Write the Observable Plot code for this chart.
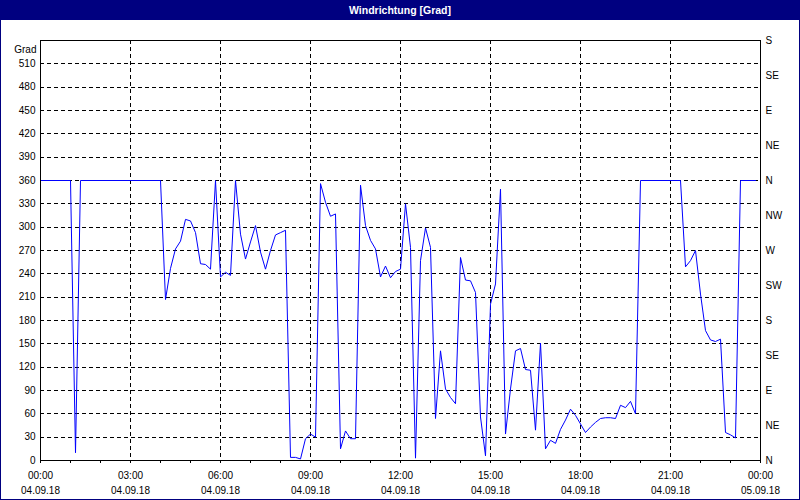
<!DOCTYPE html>
<html>
<head>
<meta charset="utf-8">
<script src="https://cdn.jsdelivr.net/npm/d3@7"></script>
<script src="https://cdn.jsdelivr.net/npm/@observablehq/plot@0.6"></script>
<style>
  html, body { margin: 0; padding: 0; background: #ffffff; }
  #wrap { position: relative; width: 800px; height: 500px; background: #ffffff; overflow: hidden; }
  #titlebar { position: absolute; left: 0; top: 0; width: 800px; height: 20px; background: #000080;
    color: #ffffff; font: bold 10.5px "Liberation Sans", Arial, sans-serif; text-align: center; line-height: 20px; }
  #chart { position: absolute; left: 0; top: 20px; }
  #border { position: absolute; left: 0; top: 0; width: 800px; height: 500px; box-sizing: border-box;
    border: 1px solid #000080; pointer-events: none; }
</style>
</head>
<body>
<div id="wrap">
  <div id="titlebar"></div>
  <div id="chart"></div>
  <div id="border"></div>
</div>
<script>
const chartTitle = "Windrichtung [Grad]";
const unitLabel = "Grad";
const day = "2018-09-04";

// measurement times (HH:MM, 04.09.18) and wind direction in degrees
const times = [
  "00:00","01:00","01:10","01:20","04:00","04:10","04:20","04:30","04:40","04:50",
  "05:00","05:10","05:20","05:30","05:40","05:50","06:00","06:10","06:20","06:30",
  "06:40","06:50","07:00","07:10","07:20","07:30","07:40","07:50","08:00","08:10",
  "08:20","08:30","08:40","08:50","09:00","09:10","09:20","09:30","09:40","09:50",
  "10:00","10:10","10:20","10:30","10:40","10:50","11:00","11:10","11:20","11:30",
  "11:40","11:50","12:00","12:10","12:20","12:30","12:40","12:50","13:00","13:10",
  "13:20","13:30","13:40","13:50","14:00","14:10","14:20","14:30","14:40","14:50",
  "15:00","15:10","15:20","15:30","15:40","15:50","16:00","16:10","16:20","16:30",
  "16:40","16:50","17:00","17:10","17:20","17:30","17:40","17:50","18:00","18:10",
  "18:20","18:30","18:40","18:50","19:00","19:10","19:20","19:30","19:40","19:50",
  "20:00","21:20","21:30","21:40","21:50","22:00","22:10","22:20","22:30","22:40",
  "22:50","23:00","23:10","23:20","23:50"
];
const degrees = [
  360,360,10,360,360,207,247,272,282,310,
  308,293,253,252,246,360,236,242,238,360,
  291,259,281,302,268,246,270,290,293,296,
  4,4,2,28,34,30,356,332,314,317,
  15,38,28,28,354,302,283,272,236,250,
  235,243,246,330,274,3,257,299,274,54,
  141,92,81,73,261,232,231,216,56,6,
  201,227,349,34,92,141,144,117,116,39,
  151,15,26,22,40,52,66,58,47,36,
  43,49,54,55,55,54,71,68,76,60,
  360,360,249,257,270,214,167,155,153,156,
  36,33,29,360,360
];

const xTicks = ["2018-09-04T00:00","2018-09-04T03:00","2018-09-04T06:00","2018-09-04T09:00",
  "2018-09-04T12:00","2018-09-04T15:00","2018-09-04T18:00","2018-09-04T21:00","2018-09-05T00:00"];
const yTicks = [0,30,60,90,120,150,180,210,240,270,300,330,360,390,420,450,480,510];
const yGrid = [30,60,90,120,150,180,210,240,270,300,330,360,390,420,450,480,510];
const compassTicks = [0,45,90,135,180,225,270,315,360,405,450,495,540];
const compassLabels = ["N","NE","E","SE","S","SW","W","NW","N","NE","E","SE","S"];

document.getElementById("titlebar").textContent = chartTitle;

const data = times.map((t, i) => ({date: new Date(`${day}T${t}:00Z`), value: degrees[i]}));
const xTickDates = xTicks.map(s => new Date(s + ":00Z"));
const xStart = xTickDates[0], xEnd = xTickDates[xTickDates.length - 1];
const hourTicks = d3.utcHour.range(xStart, new Date(+xEnd + 1));
const fmtTime = d3.utcFormat("%H:%M");
const fmtDate = d3.utcFormat("%d.%m.%y");

const plot = Plot.plot({
  width: 800,
  height: 478,
  marginLeft: 40,
  marginRight: 40,
  marginTop: 20,
  marginBottom: 38,
  style: {fontFamily: "'Liberation Sans', Arial, sans-serif", fontSize: "10px", background: "#ffffff", color: "#000000"},
  x: {type: "time", domain: [xStart, xEnd]},
  y: {domain: [0, 540]},
  marks: [
    Plot.ruleY(yGrid, {stroke: "#000000", strokeDasharray: "4,3", strokeWidth: 1, shapeRendering: "crispEdges"}),
    Plot.ruleX(xTickDates.slice(1, -1), {stroke: "#000000", strokeDasharray: "4,3", strokeWidth: 1, shapeRendering: "crispEdges"}),
    Plot.axisX({ticks: hourTicks, tickSize: 3, tickFormat: () => "", stroke: "#000000", label: null}),
    Plot.axisX({ticks: xTickDates, tickSize: 3, tickPadding: 5, lineHeight: 1.5, label: null,
      tickFormat: d => `${fmtTime(d)}\n${fmtDate(d)}`, fill: "#000000", stroke: "#000000"}),
    Plot.axisY({ticks: yTicks, tickSize: 0, tickPadding: 5, fill: "#000000", label: null, tickFormat: d => String(d)}),
    Plot.text([unitLabel], {frameAnchor: "top-left", textAnchor: "end", dx: -4, dy: 5, fill: "#000000"}),
    Plot.axisY({anchor: "right", ticks: compassTicks, tickSize: 0, tickPadding: 5, fill: "#000000", label: null,
      tickFormat: d => compassLabels[compassTicks.indexOf(d)]}),
    Plot.line(data, {x: "date", y: "value", stroke: "#0000ff", strokeWidth: 1}),
    Plot.frame({stroke: "#000000", strokeWidth: 1, shapeRendering: "crispEdges"})
  ]
});
document.getElementById("chart").appendChild(plot);
</script>
</body>
</html>
